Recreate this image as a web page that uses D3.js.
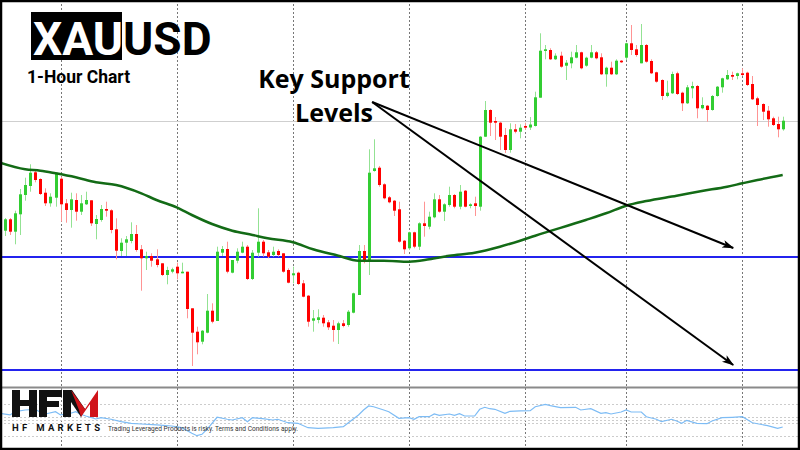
<!DOCTYPE html>
<html>
<head>
<meta charset="utf-8">
<script src="https://cdn.jsdelivr.net/npm/d3@7"></script>
<style>
  html, body { margin: 0; padding: 0; background: #fff; }
  svg { display: block; }
</style>
</head>
<body>
<svg id="chart" width="800" height="450"></svg>
<script>
// XAUUSD H1 bars, oldest first
const opens = [
  2369.3, 2380.7, 2368.3, 2385.7, 2405, 2414, 2427.7, 2421, 2407.3, 2396.7,
  2402.3, 2421.3, 2396.7, 2390, 2400, 2388.3, 2395.7, 2399.7, 2376, 2380,
  2391, 2389.7, 2370.7, 2349, 2357.3, 2359, 2366, 2350.7, 2341.7, 2344,
  2340.7, 2336.7, 2325, 2328.3, 2333.3, 2326.7, 2328.3, 2291.7, 2268.3, 2258.3,
  2267.3, 2289.3, 2279, 2347.3, 2351, 2327.3, 2339.3, 2347.3, 2353.3, 2321,
  2347.3, 2358.3, 2347.7, 2345, 2349, 2346.7, 2330, 2324.7, 2327.3, 2316.7,
  2304.3, 2279.3, 2280, 2282.3, 2277.7, 2274.3, 2270, 2276.7, 2275, 2287.3,
  2305, 2349, 2338.3, 2429, 2432.3, 2415.7, 2402.7, 2399.3, 2390.7, 2359.3,
  2351.7, 2367.7, 2353.3, 2376.7, 2373.3, 2382.7, 2400.7, 2388.3, 2395, 2405,
  2393.3, 2409.3, 2394, 2396.7, 2393.3, 2463.3, 2490, 2479, 2477.3, 2465,
  2450, 2470.7, 2468.3, 2474, 2472.5, 2474, 2502.3, 2549, 2550, 2540.7,
  2544.3, 2534.3, 2536.7, 2542.3, 2547.7, 2534.3, 2542.3, 2547.7, 2542.7, 2525.7,
  2532.3, 2525.7, 2539.3, 2542.3, 2556.7, 2550.7, 2536.7, 2555, 2539, 2527.7,
  2520, 2504, 2506.7, 2526.7, 2507.3, 2496.7, 2511.7, 2514, 2491.7, 2494.3,
  2490, 2504, 2512.7, 2520.7, 2525, 2524, 2526.7, 2527.3, 2516, 2501.7,
  2496, 2489.3, 2481.7, 2476, 2470.7
];
const highs = [
  2382, 2382, 2389.3, 2411, 2422.3, 2435.7, 2431, 2421.7, 2411.7, 2406.7,
  2427.3, 2423.3, 2401, 2407.3, 2406.7, 2405, 2408.3, 2399.7, 2385, 2395,
  2398.3, 2390.7, 2381.7, 2361.7, 2364, 2377.7, 2375, 2355, 2348.3, 2346.7,
  2350.7, 2336.7, 2333.3, 2332.3, 2337.3, 2337.3, 2328.3, 2291.7, 2273.3, 2270,
  2306, 2296.7, 2353.3, 2354, 2358.3, 2340, 2351.7, 2358.3, 2355, 2350,
  2391.7, 2360, 2350, 2353.3, 2350.7, 2346.7, 2331.7, 2333.3, 2328.3, 2320,
  2305, 2290, 2290.7, 2285, 2280, 2280, 2278.3, 2280, 2290, 2307.3,
  2355, 2355, 2450.7, 2460.7, 2434, 2416.7, 2404, 2400, 2398.3, 2360,
  2368.3, 2368.3, 2377.7, 2398.3, 2388.3, 2406.7, 2405, 2396.7, 2413.3, 2406,
  2415, 2410, 2396.7, 2403.3, 2464, 2499, 2490.7, 2483, 2478.3, 2472,
  2476.7, 2476, 2475.7, 2477.3, 2483, 2508.3, 2566.7, 2555, 2551.7, 2546.7,
  2548.3, 2540, 2548.3, 2555, 2548.3, 2543.3, 2555, 2549, 2546.7, 2533.3,
  2538.3, 2540.7, 2540, 2557.3, 2575, 2555, 2576, 2556, 2540.7, 2528.3,
  2520.7, 2519.3, 2528.3, 2528.3, 2508.3, 2515, 2518.3, 2515, 2502.7, 2495,
  2505, 2514, 2522.3, 2530, 2528.3, 2527.3, 2531.7, 2528.3, 2524, 2503.3,
  2496.7, 2494, 2483.3, 2483.3, 2483.3
];
const lows = [
  2364, 2365, 2355.7, 2365, 2399.3, 2408.3, 2417.7, 2405, 2394, 2393.3,
  2393.3, 2378.3, 2377.3, 2372.3, 2379.3, 2385, 2395, 2374, 2360.7, 2378.3,
  2383.3, 2366.7, 2340.7, 2344, 2344, 2356.7, 2348.3, 2309.3, 2330, 2333.3,
  2332.7, 2324, 2315.7, 2326.7, 2320.7, 2326.7, 2281.7, 2234, 2245.7, 2255.7,
  2266.7, 2276.7, 2279, 2344, 2326.7, 2326.7, 2336.7, 2346.7, 2320, 2320,
  2343.3, 2343.3, 2341.7, 2343.3, 2343.3, 2327.3, 2316.7, 2316.7, 2315, 2302.7,
  2273.3, 2268.3, 2276.7, 2273.3, 2270, 2258.3, 2256, 2272.7, 2273.3, 2286.7,
  2305, 2336.7, 2325, 2428.3, 2413.3, 2400.7, 2396.7, 2384, 2357.3, 2346,
  2350, 2351.7, 2350, 2363.3, 2370.7, 2381.7, 2387.3, 2379, 2393.3, 2391.7,
  2390.7, 2392.7, 2391.7, 2384, 2389.3, 2463, 2464, 2460, 2450, 2447,
  2447.3, 2466.7, 2461.7, 2470, 2470, 2473.5, 2502.3, 2540.7, 2540, 2540,
  2532.3, 2520, 2531.7, 2541.7, 2530.7, 2533.3, 2541.7, 2540.7, 2525, 2513.3,
  2525, 2525, 2537, 2540, 2545, 2543.3, 2536.7, 2537.3, 2526, 2517.3,
  2500, 2502.7, 2506, 2505, 2489, 2496, 2501.7, 2481.7, 2490.7, 2478.3,
  2489.3, 2503.3, 2507.3, 2520, 2520, 2520.7, 2524, 2514, 2500, 2474,
  2480, 2473.3, 2474, 2462.7, 2469.3
];
const closes = [
  2380.7, 2368.3, 2386.7, 2405.7, 2415, 2427.3, 2420, 2406, 2396.7, 2403.3,
  2427.3, 2395.7, 2390, 2400.7, 2388.3, 2396.7, 2400, 2376.7, 2381, 2391,
  2389.3, 2370, 2349.3, 2357.3, 2360.7, 2366, 2350, 2341.7, 2344, 2339.3,
  2335, 2325, 2330, 2330.7, 2326.7, 2328.3, 2291, 2267.3, 2257.7, 2269.3,
  2289.3, 2278.3, 2348.3, 2351, 2328.3, 2340, 2348.3, 2353.3, 2321, 2347.3,
  2358.3, 2346.7, 2343.3, 2348.3, 2345, 2328.3, 2317.3, 2326.7, 2316, 2303.3,
  2278.3, 2281.7, 2282.7, 2276.7, 2272.7, 2270, 2276.7, 2274, 2288.3, 2306.7,
  2349, 2338.3, 2427.3, 2431.7, 2415, 2401.7, 2397.7, 2389.3, 2358.3, 2350.7,
  2367.7, 2353.3, 2376.7, 2374, 2383.3, 2400.7, 2388.3, 2395.7, 2405, 2393.3,
  2408.3, 2393.3, 2395.7, 2394, 2463.3, 2490, 2477.3, 2477.3, 2463.3, 2450,
  2470.7, 2468.3, 2472.3, 2472.3, 2475.5, 2502.7, 2549.3, 2550.7, 2540.7, 2544.3,
  2533.3, 2537.3, 2542.7, 2547.7, 2531.7, 2542.3, 2547.7, 2541.7, 2525.7, 2532.3,
  2525.7, 2539.3, 2537.7, 2556.7, 2550, 2545, 2555, 2538.3, 2526.7, 2518.3,
  2504, 2507.3, 2526, 2506, 2496.7, 2512.7, 2514, 2491.7, 2495, 2490,
  2504, 2513.3, 2521.7, 2525, 2523.3, 2526.7, 2525, 2515, 2500.7, 2495,
  2488.3, 2480.7, 2475, 2470.7, 2479.3
];

// bar index where each new trading day starts
const daySeparators = [11, 34, 57, 80, 103, 123, 146];

// moving average (bar index, value)
const maIndex = [-1, 4, 7, 10, 14, 18, 22, 27, 30, 34, 37, 41, 45, 49, 52, 57, 61, 66, 70, 75,
  80, 84, 88, 93, 98, 102, 105, 115, 119, 123, 127, 133, 138, 143, 146, 149, 154];
const maValues = [2437.3, 2430.7, 2429.3, 2426.7, 2422.7, 2417.7, 2415, 2406.7, 2400, 2392.7,
  2385, 2376, 2369.3, 2365, 2361.7, 2357.7, 2350.7, 2344.3, 2339.3, 2339.3,
  2338.3, 2340.7, 2344.3, 2347.3, 2353.3, 2359.3, 2364.3, 2380, 2386.7, 2394.3,
  2399, 2404.3, 2409, 2413.3, 2416.7, 2420, 2425];

const supportLevels = [2343, 2230];
const bidPrice = 2479;

// oscillator sub-window (bar index, value)
const oscIndex = [-1, 1, 2, 4, 6, 7, 8, 10, 11, 13, 14, 15, 16, 18, 19, 21, 23, 25, 27, 30,
  33, 35, 37, 38, 39, 40, 42, 44, 45, 47, 48, 49, 51, 53, 54, 56, 58, 60, 62, 65,
  67, 68, 70, 71, 72, 73, 75, 76, 78, 80, 81, 82, 84, 85, 86, 88, 89, 90, 91, 93,
  94, 95, 96, 97, 99, 100, 102, 104, 105, 107, 108, 110, 113, 114, 116, 118, 119, 120, 122, 123,
  124, 126, 127, 129, 130, 132, 133, 134, 135, 137, 139, 140, 142, 144, 146, 148, 151, 153, 154];
const oscValues = [58.4, 56.3, 60.4, 62.5, 63.4, 59.6, 57.5, 60.4, 56.3, 58.4, 60.4, 57.1, 55, 51.3, 52.9, 50.9, 47.9, 45.9, 45, 43.8,
  42.5, 40.4, 33.4, 30.4, 32.1, 38.4, 53.4, 50.9, 50, 52.9, 47.9, 52.9, 51.6, 50, 50.9, 46.6, 45.9, 40.4, 39.6, 40.4,
  41.6, 46.6, 56.3, 62.5, 67.5, 66.6, 62.5, 60.4, 52.1, 52.9, 50.9, 54.1, 54.1, 57.5, 55.9, 57.5, 55.9, 57.9, 55, 55,
  63.4, 65.9, 64.1, 63.4, 58.4, 60.9, 61.3, 61.6, 66.6, 69.6, 67.9, 65.4, 65.9, 62.5, 64.1, 58.4, 59.1, 57.5, 60, 62.5,
  60, 60, 54.1, 50.9, 47.9, 50.9, 48.8, 45.9, 49.6, 45.9, 45.4, 48.8, 52.9, 53.4, 54.1, 46.6, 42.9, 39.6, 41.3];
const oscLevels = [70, 54, 50, 46, 30];

// annotation arrows: [bar index, price]
const arrowFrom = [72.7, 2498];
const arrowTo = [[144.2, 2352], [144.2, 2235]];

const svg = d3.select('#chart');
const width = 800, height = 450;
const mainBottom = 386;
const oscTop = 389, oscBottom = 447;

const x = d3.scaleLinear().domain([0, opens.length - 1]).range([5, 782.7]);
const y = d3.scaleLinear().domain([2214, 2600]).range([mainBottom, 0]);
const yOsc = d3.scaleLinear().domain([0, 100]).range([460, 380]);

const defs = svg.append('defs');
defs.append('clipPath').attr('id', 'clip-main')
  .append('rect').attr('x', 0).attr('y', 0).attr('width', width).attr('height', mainBottom);
defs.append('clipPath').attr('id', 'clip-osc')
  .append('rect').attr('x', 0).attr('y', oscTop).attr('width', width).attr('height', oscBottom - oscTop);
defs.append('marker')
  .attr('id', 'arrowhead')
  .attr('viewBox', '0 -5 12 10')
  .attr('refX', 11).attr('refY', 0)
  .attr('markerUnits', 'userSpaceOnUse')
  .attr('markerWidth', 12).attr('markerHeight', 10)
  .attr('orient', 'auto')
  .append('path')
  .attr('d', 'M0,-4L12,0L0,4L3,0Z')
  .attr('fill', '#000');

svg.append('rect').attr('width', width).attr('height', height).attr('fill', '#fff');

// day separators
svg.append('g')
  .selectAll('line')
  .data(daySeparators)
  .join('line')
  .attr('x1', d => Math.round(x(d)) + 0.5)
  .attr('x2', d => Math.round(x(d)) + 0.5)
  .attr('y1', 0).attr('y2', height)
  .attr('stroke', '#777').attr('stroke-width', 1)
  .attr('stroke-dasharray', '2,2');

const main = svg.append('g').attr('clip-path', 'url(#clip-main)');

// bid line
main.append('line')
  .attr('x1', 0).attr('x2', width)
  .attr('y1', Math.round(y(bidPrice)) + 0.5).attr('y2', Math.round(y(bidPrice)) + 0.5)
  .attr('stroke', '#cfcfcf').attr('stroke-width', 1);

// support levels
main.append('g')
  .selectAll('line')
  .data(supportLevels)
  .join('line')
  .attr('x1', 0).attr('x2', width)
  .attr('y1', d => y(d)).attr('y2', d => y(d))
  .attr('stroke', '#2323ee').attr('stroke-width', 2);

// candles
const bars = d3.range(opens.length).map(i => ({
  i, o: opens[i], h: highs[i], l: lows[i], c: closes[i], up: closes[i] >= opens[i]
}));

const candle = main.append('g')
  .selectAll('g')
  .data(bars)
  .join('g');

candle.append('line')
  .attr('x1', d => Math.round(x(d.i)) + 0.5)
  .attr('x2', d => Math.round(x(d.i)) + 0.5)
  .attr('y1', d => y(d.h))
  .attr('y2', d => y(d.l))
  .attr('stroke', d => d.up ? '#93e293' : '#ff9494')
  .attr('stroke-width', 1);

candle.append('rect')
  .attr('x', d => Math.round(x(d.i)) - 1)
  .attr('width', 3)
  .attr('y', d => y(Math.max(d.o, d.c)))
  .attr('height', d => Math.max(1.5, Math.abs(y(d.o) - y(d.c))))
  .attr('fill', d => d.up ? '#32cd32' : '#ff0000');

// moving average
main.append('path')
  .datum(maIndex.map((d, k) => [d, maValues[k]]))
  .attr('fill', 'none')
  .attr('stroke', '#136b16')
  .attr('stroke-width', 2.5)
  .attr('d', d3.line().x(d => x(d[0])).y(d => y(d[1])).curve(d3.curveMonotoneX));

// arrows
svg.append('g')
  .selectAll('line')
  .data(arrowTo)
  .join('line')
  .attr('x1', x(arrowFrom[0])).attr('y1', y(arrowFrom[1]))
  .attr('x2', d => x(d[0])).attr('y2', d => y(d[1]))
  .attr('stroke', '#000').attr('stroke-width', 2)
  .attr('marker-end', 'url(#arrowhead)');

// sub-window separator
svg.append('line')
  .attr('x1', 0).attr('x2', width)
  .attr('y1', 387.5).attr('y2', 387.5)
  .attr('stroke', '#8a8a8a').attr('stroke-width', 2);

// oscillator
const osc = svg.append('g').attr('clip-path', 'url(#clip-osc)');
osc.append('g')
  .selectAll('line')
  .data(oscLevels)
  .join('line')
  .attr('x1', 0).attr('x2', width)
  .attr('y1', d => Math.round(yOsc(d)) + 0.5).attr('y2', d => Math.round(yOsc(d)) + 0.5)
  .attr('stroke', '#cccccc').attr('stroke-width', 1)
  .attr('stroke-dasharray', '2,2');

// logo + disclaimer
const logo = svg.append('g');
logo.append('path')
  .attr('fill', '#111')
  .attr('d', 'M12,390H20V400H29V390H37V417H29V406H20V417H12Z' +
             'M39,390H62V397H47V401H59V407H47V417H39Z' +
             'M63,390H71V417H63Z');
logo.append('path')
  .attr('fill', '#111')
  .attr('d', 'M63,390H72L85,409L81,417Z');
logo.append('path')
  .attr('fill', '#d0141a')
  .attr('d', 'M71,390L85,409L98,390V417H90V404L81,417L79,410Z');

logo.append('text')
  .attr('x', 12).attr('y', 431)
  .attr('font-family', 'Roboto, sans-serif')
  .attr('font-weight', 700)
  .attr('font-size', 9.5)
  .attr('letter-spacing', 3.3)
  .attr('fill', '#111')
  .text('HF MARKETS');

logo.append('text')
  .attr('x', 108).attr('y', 431)
  .attr('font-family', 'Roboto, sans-serif')
  .attr('font-size', 6.6)
  .attr('fill', '#333')
  .text('Trading Leveraged Products is risky. Terms and Conditions apply.');

osc.append('path')
  .datum(oscIndex.map((d, k) => [d, oscValues[k]]))
  .attr('fill', 'none')
  .attr('stroke', '#7dbcf5')
  .attr('stroke-width', 1.2)
  .attr('d', d3.line().x(d => x(d[0])).y(d => yOsc(d[1])));

// title
svg.append('rect')
  .attr('x', 31).attr('y', 12).attr('width', 91).attr('height', 48)
  .attr('fill', '#000');
const title = svg.append('text')
  .attr('x', 33).attr('y', 55)
  .attr('font-family', 'Roboto, sans-serif')
  .attr('font-weight', 700)
  .attr('font-size', 46);
title.append('tspan').attr('fill', '#fff').text('XAU');
title.append('tspan').attr('fill', '#000').text('USD');

svg.append('text')
  .attr('x', 27).attr('y', 82.5)
  .attr('font-family', 'Roboto, sans-serif')
  .attr('font-weight', 700)
  .attr('font-size', 17.5)
  .attr('fill', '#000')
  .text('1-Hour Chart');

// annotation label
const label = svg.append('text')
  .attr('text-anchor', 'middle')
  .attr('font-family', '"Open Sans", sans-serif')
  .attr('font-weight', 700)
  .attr('font-size', 25)
  .attr('fill', '#000');
label.append('tspan').attr('x', 334).attr('y', 87.5).text('Key Support');
label.append('tspan').attr('x', 334).attr('y', 121.5).text('Levels');

// frame
svg.append('rect')
  .attr('x', 1).attr('y', 1).attr('width', width - 2).attr('height', height - 2)
  .attr('fill', 'none').attr('stroke', '#000').attr('stroke-width', 2.5);
</script>
</body>
</html>
